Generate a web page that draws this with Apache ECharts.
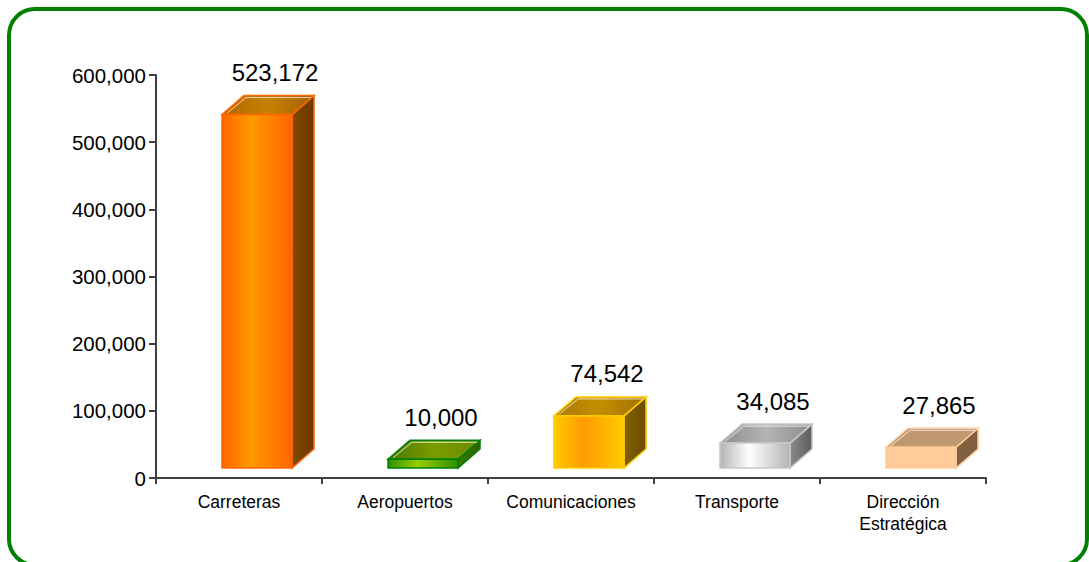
<!DOCTYPE html>
<html>
<head>
<meta charset="utf-8">
<script src="https://cdn.jsdelivr.net/npm/echarts@6/dist/echarts.min.js"></script>
<style>
  html, body { margin: 0; padding: 0; background: #fff; }
  #chart { width: 1089px; height: 562px; }
</style>
</head>
<body>
<div id="chart"></div>
<script>
  var categories = ['Carreteras', 'Aeropuertos', 'Comunicaciones', 'Transporte', 'Dirección\nEstratégica'];
  var values = [523172, 10000, 74542, 34085, 27865];
  var yTicks = [0, 100000, 200000, 300000, 400000, 500000, 600000];

  // colores de cada caja: frente (bordes, centro), tapa, lado, borde
  var palette = [
    { edge: '#FF6600', mid: '#FF9900', top: ['#B46400', '#C48200', '#A85E00'], side: ['#804A00', '#6C3800'], line: '#FF6600' },
    { edge: '#2F9000', mid: '#99CC00', top: ['#4A7800', '#7A9C00', '#6A8C00'], side: ['#3A7A00', '#2A6000'], line: '#008000' },
    { edge: '#FFCC00', mid: '#FF9900', top: ['#AC7A00', '#C28E00', '#A07000'], side: ['#806000', '#6C4C00'], line: '#FFCC00' },
    { edge: '#B4B4B4', mid: '#FFFFFF', top: ['#8C8C8C', '#B4B4B4', '#8C8C8C'], side: ['#8A8A8A', '#5E5E5E'], line: '#C8C8C8' },
    { edge: '#FFCC99', mid: '#FFCC99', top: ['#C09870', '#C09870', '#C09870'], side: ['#806040', '#806040'], line: '#FFCC99' }
  ];

  var font = 'Liberation Sans, Arial, sans-serif';
  var fmt = function (v) { return Number(v).toLocaleString('en-US'); };

  var chart = echarts.init(document.getElementById('chart'), null, { renderer: 'svg' });

  function box(params, api) {
    var i = api.value(0);
    var v = api.value(1);
    var top = api.coord([i, v]);
    var base = api.coord([i, 0]);
    var c = palette[i];
    var cx = top[0];
    var x0 = cx - 17, x1 = cx + 53;
    var yT = top[1] - 12, yB = base[1] - 10;
    var dx = 22, dy = 19;
    var lin = function (stops) {
      return new echarts.graphic.LinearGradient(0, 0, 1, 0, stops.map(function (s, k) {
        return { offset: k / (stops.length - 1), color: s };
      }));
    };
    return {
      type: 'group',
      children: [
        {
          type: 'polygon',
          shape: { points: [[x1, yT], [x1 + dx, yT - dy], [x1 + dx, yB - dy], [x1, yB]] },
          style: { fill: lin(c.side), stroke: c.line, lineWidth: 1.5 }
        },
        {
          type: 'polygon',
          shape: { points: [[x0, yT], [x0 + dx, yT - dy], [x1 + dx, yT - dy], [x1, yT]] },
          style: { fill: lin(c.top), stroke: c.line, lineWidth: 1.5 }
        },
        {
          type: 'polyline',
          shape: { points: [[x0 + 5, yT - 1.5], [x0 + dx + 2, yT - dy + 2], [x1 + dx - 3, yT - dy + 2]] },
          style: { stroke: 'rgba(255,255,255,0.75)', lineWidth: 1, fill: null }
        },
        {
          type: 'rect',
          shape: { x: x0, y: yT, width: x1 - x0, height: yB - yT },
          style: {
            fill: new echarts.graphic.LinearGradient(0, 0, 1, 0, [
              { offset: 0, color: c.edge },
              { offset: 0.42, color: c.mid },
              { offset: 1, color: c.edge }
            ]),
            stroke: c.line, lineWidth: 1.5
          }
        },
        {
          type: 'text',
          x: cx + 36,
          y: top[1] - 54,
          style: {
            text: fmt(v), fontSize: 24, fontFamily: font, fill: '#000',
            align: 'center', verticalAlign: 'middle'
          }
        }
      ]
    };
  }

  var option = {
    animation: false,
    backgroundColor: '#fff',
    graphic: [{
      type: 'rect',
      shape: { x: 9, y: 9, width: 1078, height: 556, r: 26 },
      style: { fill: null, stroke: '#008000', lineWidth: 4 },
      z: 10
    }],
    grid: { left: 156, right: 103, top: 75, bottom: 84 },
    xAxis: {
      type: 'category',
      data: categories,
      boundaryGap: true,
      axisLine: { lineStyle: { color: '#404040', width: 2 } },
      axisTick: { show: true, length: 6, lineStyle: { color: '#404040', width: 2 } },
      axisLabel: { color: '#000', fontSize: 17.5, fontFamily: font, margin: 13, lineHeight: 22, interval: 0 }
    },
    yAxis: {
      type: 'value',
      min: yTicks[0],
      max: yTicks[yTicks.length - 1],
      interval: yTicks[1] - yTicks[0],
      splitLine: { show: false },
      axisLine: { show: true, lineStyle: { color: '#404040', width: 2 } },
      axisTick: { show: true, length: 7, lineStyle: { color: '#404040', width: 2 } },
      axisLabel: { color: '#000', fontSize: 20.5, fontFamily: font, margin: 10, formatter: fmt }
    },
    series: [{
      type: 'custom',
      renderItem: box,
      encode: { x: 0, y: 1 },
      data: values.map(function (v, i) { return [i, v]; }),
      clip: false
    }]
  };

  chart.setOption(option);
</script>
</body>
</html>
